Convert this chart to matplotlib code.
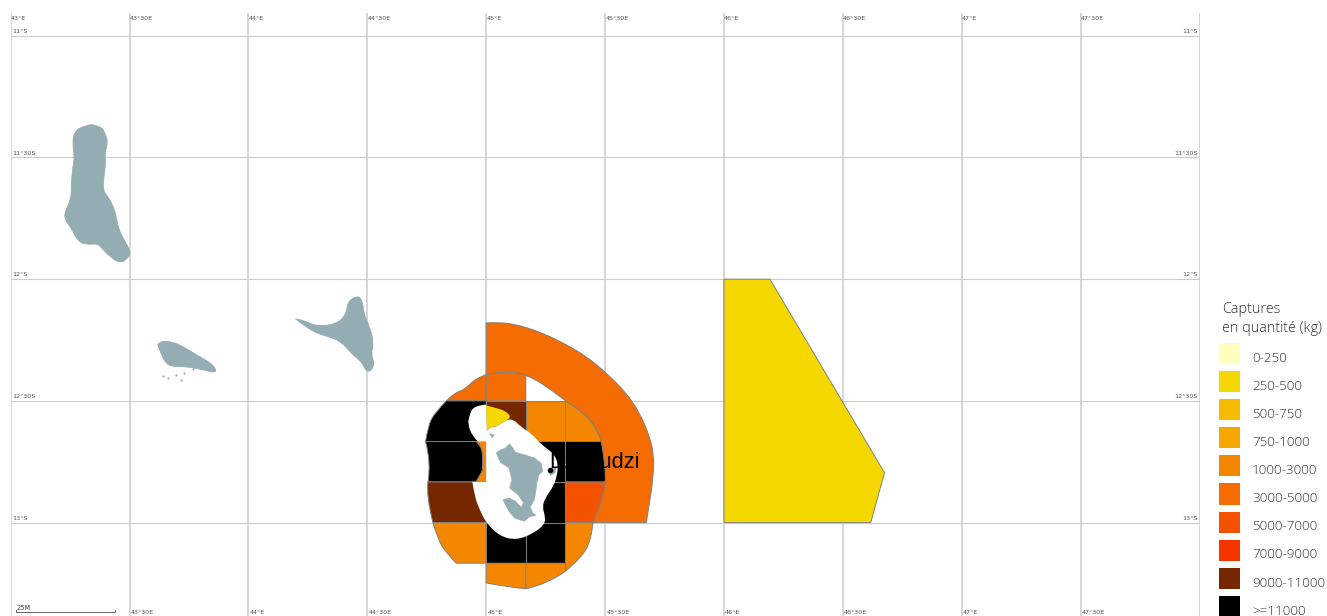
import matplotlib
matplotlib.use("Agg")
import matplotlib.pyplot as plt
from matplotlib.patches import Patch, PathPatch
from matplotlib.path import Path

# graticule, tick labels
lons = [43, 43.5, 44, 44.5, 45, 45.5, 46, 46.5, 47, 47.5, 48]
lon_labels = ["43°E", "43°30E", "44°E", "44°30E", "45°E", "45°30E", "46°E", "46°30E", "47°E", "47°30E"]
lats = [-11, -11.5, -12, -12.5, -13]
lat_labels = ["11°S", "11°30S", "12°S", "12°30S", "13°S"]

# legend classes
legend_title = "Captures\nen quantité (kg)"
classes = ["0-250", "250-500", "500-750", "750-1000", "1000-3000", "3000-5000",
           "5000-7000", "7000-9000", "9000-11000", ">=11000"]
colors = ["#FFFFBE", "#F5D800", "#F7BC00", "#F7A600", "#F58700", "#F56C00",
          "#F55200", "#F53400", "#752800", "#000000"]

# catch areas, lon/lat
east_area = [(46, -12), (46.193, -12), (46.675, -12.795), (46.617, -13), (46, -13)]
outer_ring = [(45, -12.18), (45.057, -12.177), (45.127, -12.187), (45.197, -12.207), (45.267, -12.235),
              (45.337, -12.269), (45.421, -12.317), (45.505, -12.385), (45.589, -12.467), (45.645, -12.549),
              (45.687, -12.645), (45.706, -12.727), (45.701, -12.823), (45.687, -12.919), (45.673, -13),
              (45.449, -13), (45.491, -12.905), (45.505, -12.782), (45.484, -12.667), (45.463, -12.611),
              (45.421, -12.563), (45.379, -12.529), (45.333, -12.5), (45.253, -12.44), (45.169, -12.392),
              (45.085, -12.376), (45, -12.392)]
north_w = [(44.832, -12.5), (44.867, -12.467), (44.909, -12.454), (44.958, -12.406), (45, -12.392), (45, -12.5)]
north_e = [(45, -12.392), (45.085, -12.376), (45.1667, -12.392), (45.1667, -12.5), (45, -12.5)]
nw_black = [(44.832, -12.5), (44.783, -12.549), (44.755, -12.604), (44.745, -12.667), (45, -12.667), (45, -12.5)]
n_brown = [(45, -12.5), (45.1667, -12.5), (45.1667, -12.6667), (45, -12.6667)]
n_orange = [(45.1667, -12.5), (45.3333, -12.5), (45.3333, -12.6667), (45.1667, -12.6667)]
ne_orange = [(45.484, -12.667), (45.463, -12.611), (45.421, -12.563), (45.379, -12.529), (45.3333, -12.5),
             (45.3333, -12.6667)]
w_strip = [(44.951, -12.6667), (45, -12.6667), (45, -12.8333), (44.951, -12.8333)]
w_black = [(44.745, -12.667), (44.769, -12.755), (44.755, -12.833), (44.956, -12.833), (44.986, -12.789),
           (44.984, -12.768), (44.986, -12.727), (44.979, -12.686), (44.958, -12.667)]
mid_black = [(45.1667, -12.6667), (45.3333, -12.6667), (45.3333, -12.8333), (45.1667, -12.8333)]
e_black = [(45.3333, -12.6667), (45.484, -12.667), (45.505, -12.782), (45.5, -12.8333), (45.3333, -12.8333)]
sw_brown = [(44.755, -12.833), (44.748, -12.892), (44.776, -13), (45, -13), (45, -12.8333)]
s_black = [(45.1667, -12.8333), (45.3333, -12.8333), (45.3333, -13), (45.1667, -13)]
se_red = [(45.3333, -12.8333), (45.5, -12.8333), (45.491, -12.905), (45.449, -13), (45.3333, -13)]
sw_orange = [(44.776, -13), (44.797, -13.07), (44.832, -13.124), (44.874, -13.1667), (45, -13.1667), (45, -13)]
s_black2 = [(45, -13), (45.1667, -13), (45.1667, -13.1667), (45, -13.1667)]
s_black3 = [(45.1667, -13), (45.3333, -13), (45.3333, -13.1667), (45.1667, -13.1667)]
se_orange = [(45.3333, -13), (45.449, -13), (45.442, -13.07), (45.4, -13.145), (45.3333, -13.2)]
bottom_w = [(45, -13.1667), (45.1667, -13.1667), (45.1667, -13.272), (45.085, -13.264), (45, -13.248)]
bottom_e = [(45.1667, -13.1667), (45.3333, -13.1667), (45.3333, -13.2), (45.253, -13.254), (45.1667, -13.272)]

# (outline, class index, runs of vertices that follow a curve)
areas = [(east_area, 1, []), (outer_ring, 5, [(0, 14), (15, 26)]), (north_w, 5, [(0, 4)]), (north_e, 5, [(0, 2)]),
         (nw_black, 9, [(0, 3)]), (n_brown, 8, []), (n_orange, 4, []), (ne_orange, 4, [(0, 4)]),
         (w_strip, 4, []), (w_black, 9, [(0, 2), (3, 8)]), (mid_black, 9, []), (e_black, 9, [(1, 3)]),
         (sw_brown, 8, [(0, 2)]), (s_black, 9, []), (se_red, 6, [(1, 3)]), (sw_orange, 4, [(0, 3)]),
         (s_black2, 9, []), (s_black3, 9, []), (se_orange, 4, [(1, 4)]), (bottom_w, 4, [(2, 4)]),
         (bottom_e, 4, [(2, 4)])]

# zone around Mayotte, left empty
lagoon = [(45, -12.515), (44.947, -12.519), (44.928, -12.563), (44.923, -12.597), (44.942, -12.645),
          (44.965, -12.667), (45, -12.667), (45, -12.833), (44.942, -12.833), (44.951, -12.892),
          (44.972, -12.946), (45, -13.001), (45.057, -13.056), (45.127, -13.072), (45.197, -13.045),
          (45.246, -13.008), (45.248, -12.974), (45.236, -12.936), (45.248, -12.899), (45.283, -12.851),
          (45.297, -12.81), (45.303, -12.762), (45.287, -12.721), (45.252, -12.693), (45.222, -12.67),
          (45.196, -12.639), (45.147, -12.607), (45.106, -12.57), (45.064, -12.59), (45.042, -12.607),
          (45.021, -12.604), (45.003, -12.621)]
north_yellow = [(45, -12.519), (45.042, -12.529), (45.085, -12.543), (45.106, -12.57), (45.064, -12.59),
                (45.042, -12.607), (45.021, -12.604), (45.003, -12.621)]

# land
grande_comore = [(43.339, -11.365), (43.382, -11.372), (43.396, -11.4), (43.41, -11.434), (43.396, -11.482),
                 (43.4, -11.523), (43.391, -11.591), (43.389, -11.639), (43.424, -11.68), (43.445, -11.742),
                 (43.452, -11.79), (43.48, -11.844), (43.508, -11.892), (43.487, -11.92), (43.459, -11.933),
                 (43.424, -11.913), (43.382, -11.872), (43.367, -11.854), (43.318, -11.858), (43.283, -11.844),
                 (43.255, -11.79), (43.232, -11.762), (43.225, -11.728), (43.255, -11.673), (43.255, -11.605),
                 (43.262, -11.536), (43.269, -11.495), (43.26, -11.441), (43.269, -11.393), (43.304, -11.372)]
moheli = [(43.619, -12.269), (43.633, -12.253), (43.682, -12.258), (43.724, -12.276), (43.78, -12.31),
          (43.836, -12.341), (43.862, -12.365), (43.862, -12.386), (43.794, -12.368), (43.724, -12.358),
          (43.661, -12.358), (43.633, -12.31)]
anjouan = [(44.198, -12.163), (44.229, -12.167), (44.285, -12.194), (44.369, -12.185), (44.411, -12.146),
           (44.418, -12.091), (44.46, -12.067), (44.481, -12.091), (44.484, -12.139), (44.509, -12.194),
           (44.527, -12.256), (44.516, -12.31), (44.53, -12.345), (44.516, -12.379), (44.492, -12.376),
           (44.481, -12.345), (44.432, -12.304), (44.39, -12.256), (44.334, -12.235), (44.285, -12.222),
           (44.229, -12.187)]
mayotte = [(45.042, -12.714), (45.056, -12.703), (45.081, -12.693), (45.098, -12.676), (45.112, -12.693),
           (45.123, -12.711), (45.161, -12.721), (45.203, -12.734), (45.231, -12.755), (45.238, -12.789),
           (45.222, -12.803), (45.213, -12.837), (45.21, -12.864), (45.203, -12.906), (45.185, -12.936),
           (45.196, -12.96), (45.21, -12.97), (45.182, -12.977), (45.161, -12.995), (45.137, -12.988),
           (45.119, -12.981), (45.095, -12.953), (45.07, -12.906), (45.098, -12.899), (45.123, -12.912),
           (45.147, -12.936), (45.157, -12.919), (45.133, -12.885), (45.098, -12.858), (45.108, -12.823),
           (45.095, -12.775), (45.059, -12.752)]
petite_terre = [(45.264, -12.782), (45.297, -12.769), (45.289, -12.796), (45.269, -12.807)]
islet = [(45.014, -12.634), (45.035, -12.639), (45.025, -12.652)]
rounded_land = [grande_comore, moheli, anjouan]
jagged_land = [mayotte, petite_terre, islet]

moheli_specks_lon = [43.64, 43.661, 43.696, 43.717, 43.731, 43.766]
moheli_specks_lat = [-12.399, -12.406, -12.395, -12.413, -12.386, -12.368]
dzaoudzi = (45.269, -12.785)

LAND = "#94ADB2"
GRID = "#CCCCCC"
EDGE = "#808080"
TICK = "#555555"

fig = plt.figure(figsize=(13.27, 6.16), dpi=100)
ax = fig.add_axes([10.6 / 1327, 0.4 / 616, 1189 / 1327, 603 / 616])
ax.set_xlim(43, 48)
ax.set_ylim(-13.382, -10.905)
ax.axis("off")


def outline(points, runs):
    # straight between vertices, rounded along the runs
    verts, codes = [points[0]], [Path.MOVETO]
    i = 0
    while i < len(points) - 1:
        run = next((r for r in runs if r[0] == i), None)
        if run is None:
            verts.append(points[i + 1])
            codes.append(Path.LINETO)
            i += 1
            continue
        for j in range(run[0] + 1, run[1]):
            a, b = points[j], points[j + 1]
            end = b if j + 1 == run[1] else ((a[0] + b[0]) / 2, (a[1] + b[1]) / 2)
            verts += [a, end]
            codes += [Path.CURVE3, Path.CURVE3]
        i = run[1]
    verts.append(points[0])
    codes.append(Path.CLOSEPOLY)
    return Path(verts, codes)


def poly(points, runs, **kw):
    ax.add_patch(PathPatch(outline(points, runs), **kw))


for lon in lons:
    ax.axvline(lon, color=GRID, lw=1.1, zorder=1)
for lat in lats:
    ax.axhline(lat, color=GRID, lw=0.8, zorder=1)

for lon, label in zip(lons, lon_labels):
    ax.text(lon + 0.001, -10.93, label, fontsize=4.6, color=TICK, va="center", zorder=6)
# first bottom label sits under the scale bar in the original, so it is left out
for lon, label in zip(lons[1:], lon_labels[1:]):
    ax.text(lon + 0.005, -13.368, label, fontsize=4.6, color=TICK, va="center", zorder=6)
for lat, label in zip(lats, lat_labels):
    ax.text(43.006, lat + 0.018, label, fontsize=4.6, color=TICK, va="center", zorder=6)
    ax.text(47.993, lat + 0.018, label, fontsize=4.6, color=TICK, va="center", ha="right", zorder=6)

for points, cls, runs in areas:
    poly(points, runs, facecolor=colors[cls], edgecolor=EDGE, lw=0.7, zorder=2)

poly(lagoon, [(0, 5), (8, 31)], facecolor="white", edgecolor="none", zorder=3)
poly(north_yellow, [(0, 7)], facecolor=colors[1], edgecolor="none", zorder=4)

for island in rounded_land:
    poly(island + [island[0]], [(0, len(island))], facecolor=LAND, edgecolor=LAND, lw=0.6, zorder=5)
for island in jagged_land:
    poly(island, [], facecolor=LAND, edgecolor=LAND, lw=0.3, zorder=5)
ax.scatter(moheli_specks_lon, moheli_specks_lat, s=2.5, color=LAND, linewidths=0, zorder=5)
ax.scatter([dzaoudzi[0]], [dzaoudzi[1]], s=16, color="black", linewidths=0, zorder=6)

ax.text(dzaoudzi[0] - 0.004, dzaoudzi[1] + 0.011, "Dzaoudzi", fontsize=15.7, family="Liberation Sans",
        color="black", va="baseline", zorder=7)

# scale bar, 25 minutes of longitude
ax.plot([43.021, 43.021, 43.4377, 43.4377], [-13.357, -13.366, -13.366, -13.357], color="#666666", lw=0.7, zorder=6)
ax.text(43.025, -13.351, "25M", fontsize=4.8, color="#444444", va="center", zorder=6)

handles = [Patch(facecolor=c, edgecolor="none", label=l) for c, l in zip(colors, classes)]
leg = fig.legend(handles=handles, loc="upper left", bbox_to_anchor=(1219 / 1327, 1 - 343 / 616),
                 borderaxespad=0, borderpad=0, frameon=False, handlelength=1.58, handleheight=2.05,
                 handletextpad=0.9, labelspacing=0.53,
                 prop={"family": "Open Sans", "size": 9.6, "weight": "light"}, labelcolor="#333333")
for t in leg.get_texts():
    t.set_y(-4)

fig.text(1222 / 1327, 1 - 319 / 616, legend_title, family="Open Sans", fontsize=10.4, weight="light",
         color="#333333", ha="left", va="center", linespacing=1.42)

fig.savefig("out.png", dpi=100)
